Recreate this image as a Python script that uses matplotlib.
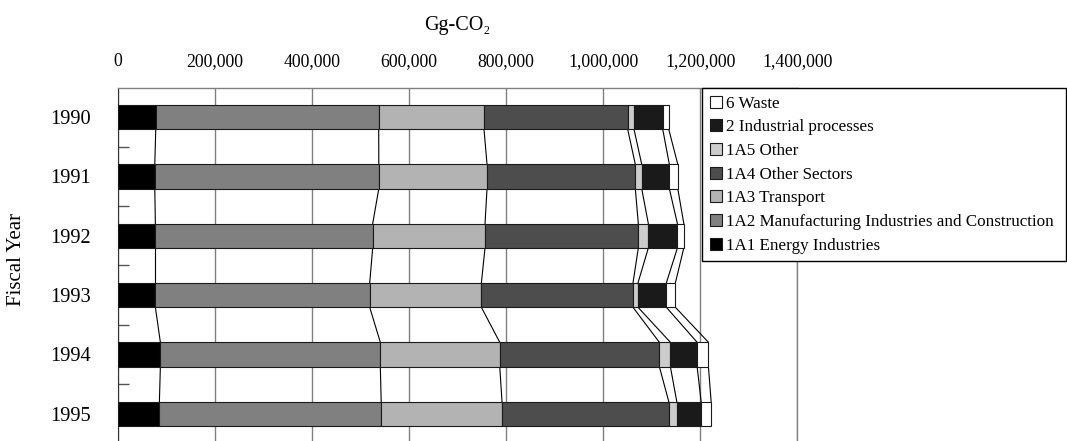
import matplotlib
matplotlib.use('Agg')
import matplotlib.pyplot as plt
from matplotlib.ticker import FixedLocator
from matplotlib.patches import Patch

plt.rcParams['font.family'] = ['Liberation Serif', 'DejaVu Serif']
plt.rcParams['font.size'] = 12.5

years = ['1990', '1991', '1992', '1993', '1994', '1995']
series_names = ['1A1 Energy Industries',
                '1A2 Manufacturing Industries and Construction',
                '1A3 Transport',
                '1A4 Other Sectors',
                '1A5 Other',
                '2 Industrial processes',
                '6 Waste']
energy = [78400, 76400, 77600, 77600, 87900, 85900]
manufacturing = [459300, 461500, 447700, 441500, 453100, 456900]
transport = [216900, 222900, 231400, 230100, 246000, 248900]
other_sectors = [296000, 305500, 315800, 312300, 328800, 343500]
other_1a5 = [13000, 13200, 20600, 10300, 22700, 16500]
industrial = [59200, 56900, 59900, 58400, 55100, 50200]
waste = [12400, 17400, 13200, 18600, 23300, 20600]
x_ticks = [0, 200000, 400000, 600000, 800000, 1000000, 1200000, 1400000]

series_values = [energy, manufacturing, transport, other_sectors, other_1a5, industrial, waste]
colors = ['#000000', '#808080', '#b3b3b3', '#4d4d4d', '#cccccc', '#1a1a1a', '#ffffff']

W, H = 1067, 441
fig = plt.figure(figsize=(W / 100, H / 100), dpi=100)
ax_left, ax_right = 117.7, 797.3
ax_top, ax_bot = 87.5, 443.4
ax = fig.add_axes([ax_left / W, 1 - ax_bot / H, (ax_right - ax_left) / W, (ax_bot - ax_top) / H])

ax.set_xlim(0, 1400000)
ax.set_ylim(5.5, -0.5)

bar_h = 0.41
ypos = list(range(len(years)))
left = [0] * len(years)
for vals, col, name in zip(series_values, colors, series_names):
    ax.barh(ypos, vals, left=left, height=bar_h, color=col, edgecolor='#1a1a1a',
            linewidth=0.8, zorder=3, label=name)
    ends = [l + v for l, v in zip(left, vals)]
    for i in range(len(years) - 1):
        ax.plot([ends[i], ends[i + 1]], [ypos[i] + bar_h / 2, ypos[i + 1] - bar_h / 2],
                color='black', lw=0.8, zorder=2)
    left = ends

ax.set_axisbelow(True)
ax.xaxis.grid(True, color='#808080', lw=1)
for s in ['top', 'right']:
    ax.spines[s].set_color('#808080')
    ax.spines[s].set_linewidth(1)
ax.spines['left'].set_color('#333333')
ax.spines['bottom'].set_visible(False)

ax.xaxis.tick_top()
ax.set_xticks(x_ticks)
ax.set_xticklabels([f'{v:,}' for v in x_ticks], fontsize=12.8)
ax.tick_params(axis='x', length=0, pad=12.5)
ax.set_xlabel('Gg-CO\u2082', labelpad=17, fontsize=14.5)
ax.xaxis.set_label_position('top')

ax.set_yticks(ypos)
ax.set_yticklabels(years, fontsize=14.7)
ax.tick_params(axis='y', which='major', length=0, pad=19.5)
ax.yaxis.set_minor_locator(FixedLocator([0.5, 1.5, 2.5, 3.5, 4.5]))
ax.tick_params(axis='y', which='minor', direction='in', length=8, width=1, color='#555555')

fig.text(17 / W, 1 - 259 / H, 'Fiscal Year', rotation=90, ha='center', va='center', fontsize=15)

handles = [Patch(facecolor=c, edgecolor='#1a1a1a', linewidth=0.8) for c in colors][::-1]
labels = series_names[::-1]
lg_x0, lg_x1, lg_top, lg_bot = 702, 1066, 88, 262
leg = fig.legend(handles, labels, loc='upper left',
                 bbox_to_anchor=(lg_x0 / W, 1 - lg_bot / H, (lg_x1 - lg_x0) / W, (lg_bot - lg_top) / H),
                 mode='expand', borderaxespad=0, fancybox=False, framealpha=1,
                 edgecolor='black', handlelength=0.7, handleheight=0.7, handletextpad=0.25,
                 labelspacing=0.45, borderpad=0.45, fontsize=12.25)
leg.get_frame().set_linewidth(1)

fig.savefig('out.png', dpi=100)
